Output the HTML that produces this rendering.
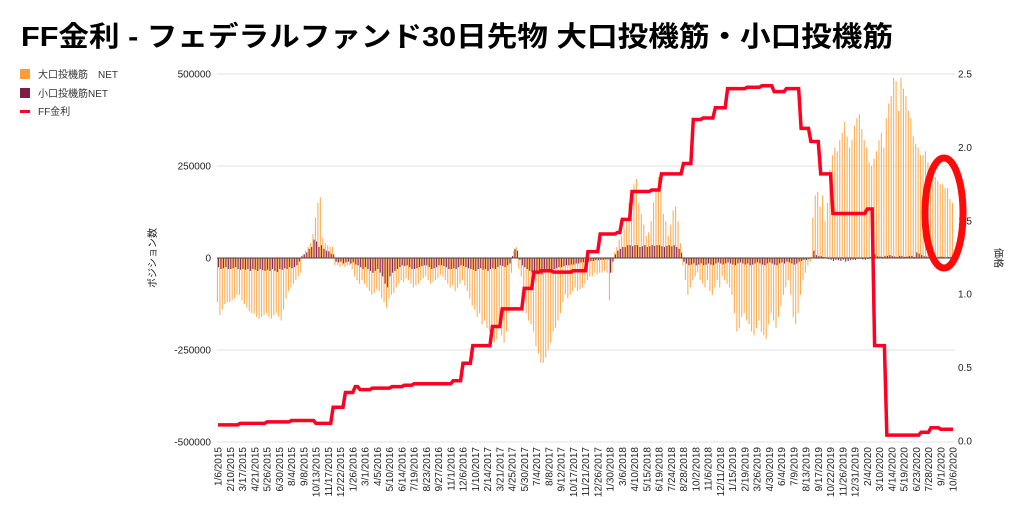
<!DOCTYPE html>
<html><head><meta charset="utf-8">
<style>
html,body{margin:0;padding:0;background:#fff;}
body{width:1024px;height:523px;overflow:hidden;font-family:"Liberation Sans","Noto Sans CJK JP",sans-serif;}
svg text{font-family:"Liberation Sans","Noto Sans CJK JP",sans-serif;}
</style></head>
<body>
<svg id="chart" width="1024" height="523" viewBox="0 0 1024 523" xmlns="http://www.w3.org/2000/svg">
<text x="21" y="46" font-size="28" font-weight="bold" fill="#000" textLength="872" lengthAdjust="spacingAndGlyphs">FF金利 - フェデラルファンド30日先物 大口投機筋・小口投機筋</text>
<g>
 <g><rect x="20" y="69" width="10" height="10" fill="#ff9c33"/><text x="38" y="78" font-size="10" fill="#333">大口投機筋　NET</text></g>
 <g><rect x="20" y="88" width="10" height="10" fill="#7a1f45"/><text x="38" y="97" font-size="10" fill="#333">小口投機筋NET</text></g>
 <g><rect x="20" y="110" width="10" height="3" fill="#ff0022"/><text x="38" y="115" font-size="10" fill="#333">FF金利</text></g>
</g>
<g id="grid"></g>
<g id="bars"></g>
<line x1="217" x2="955" y1="258" y2="258" stroke="#444" stroke-width="1"/>
<polyline id="rateLine" fill="none" stroke="#ff0022" stroke-width="3.5" stroke-linejoin="miter"/>
<g id="axes"></g>
<text transform="translate(156,258) rotate(-90)" text-anchor="middle" font-size="10" fill="#222">ポジション数</text>
<text transform="translate(995,258) rotate(90)" text-anchor="middle" font-size="10" fill="#222">価格</text>
<ellipse cx="944" cy="213" rx="19" ry="55" fill="none" stroke="#ff0a0a" stroke-width="7"/>
</svg>
<script>
const largeNet = [
-120,-155,-140,-125,-120,-120,-115,-110,-100,-100,
-115,-125,-135,-145,-150,-150,-160,-165,-160,-155,
-150,-160,-165,-155,-150,-160,-170,-140,-110,-90,
-80,-70,-60,-50,-40,10,
20,30,40,65,110,150,165,55,40,35,30,30,
-20,-20,-25,-20,-25,-20,-20,-30,-50,-60,-70,-60,
-70,-80,-90,-100,-95,-85,-90,-110,-120,-135,
-110,-100,-95,-80,-70,-60,-65,-55,-60,-70,
-80,-75,-70,-60,-55,-50,-60,-70,-65,-60,
-55,-45,-50,-60,-70,-80,-75,-90,-80,-70,
-60,-75,-90,-110,-130,-140,-160,-150,-180,-170,
-190,-200,-210,-230,-220,-190,-210,-230,-200,-150,
-40,20,30,-30,-50,-100,-150,-170,-180,-200,
-240,-260,-285,-285,-270,-250,-230,-200,-190,-170,
-150,-120,-100,-110,-100,-90,-80,-90,-85,-80,
-70,-60,-50,-50,-40,-45,-40,-40,-35,-40,
-115,-40,15,30,50,60,80,100,150,180,
200,215,150,120,90,60,70,100,150,180,
220,180,120,100,60,90,130,140,100,40,
-20,-60,-100,-80,-60,-50,-40,-60,-70,-80,
-60,-90,-100,-80,-60,-80,-50,-60,-70,-80,
-100,-150,-200,-190,-160,-150,-170,-180,-200,-210,
-190,-170,-200,-210,-220,-180,-150,-170,-190,-160,
-130,-100,-80,-60,-100,-160,-180,-150,-100,-60,
-40,-20,-10,110,170,180,140,170,100,150,
240,280,300,290,320,340,370,330,300,320,
360,380,390,350,320,300,260,250,270,290,
320,340,300,380,420,440,490,480,400,490,
460,440,400,380,330,310,300,280,280,290,
260,250,230,220,210,200,200,190,190,160,
150];
const smallNet = [
-25,-30,-28,-25,-30,-30,-28,-25,-30,-32,
-30,-32,-30,-35,-30,-32,-35,-30,-33,-35,
-32,-35,-30,-35,-38,-30,-32,-28,-30,-25,
-28,-25,-20,-10,5,10,
15,25,30,50,45,30,35,25,20,18,12,10,
-10,-12,-10,-15,-12,-10,-15,-12,-18,-20,-25,-30,
-25,-30,-35,-40,-35,-30,-40,-50,-70,-80,
-50,-40,-35,-30,-25,-20,-22,-20,-25,-30,
-30,-28,-25,-22,-20,-20,-25,-30,-28,-25,
-20,-20,-22,-25,-30,-30,-28,-30,-25,-20,
-22,-25,-28,-30,-32,-35,-30,-28,-32,-30,
-35,-30,-28,-30,-25,-20,-22,-25,-20,-15,
5,25,20,-5,-20,-25,-30,-35,-40,-38,
-40,-42,-45,-40,-38,-35,-32,-30,-28,-25,
-25,-22,-20,-20,-18,-18,-15,-15,-12,-12,
-10,-10,-8,-8,-6,-6,-5,-5,-4,-4,
-40,-10,10,20,25,30,30,35,35,32,
35,35,30,32,35,30,32,35,33,35,
35,32,30,33,35,32,35,30,25,15,
-10,-15,-20,-18,-15,-20,-18,-15,-20,-18,
-15,-18,-20,-15,-12,-15,-18,-15,-12,-15,
-18,-20,-15,-12,-15,-18,-15,-20,-18,-15,
-12,-15,-18,-20,-15,-12,-15,-18,-20,-15,
-12,-15,-10,-12,-15,-18,-15,-10,-8,-5,
-5,-3,2,20,8,5,5,3,2,-3,
-5,-8,-5,-6,-8,-5,-10,-8,-6,-5,
-5,-3,-2,-4,-5,-3,3,8,10,5,
4,3,5,6,8,5,4,3,6,5,
3,4,5,6,3,15,12,8,5,4,
3,4,3,2,3,4,3,2,3,3,
2];
const ffRate = [
0.11,0.11,0.11,0.11,0.11,0.11,0.11,0.11,0.11,0.12,
0.12,0.12,0.12,0.12,0.12,0.12,0.12,0.12,0.12,0.12,
0.13,0.13,0.13,0.13,0.13,0.13,0.13,0.13,0.13,0.13,
0.14,0.14,0.14,0.14,0.14,0.14,0.14,0.14,0.14,0.14,
0.12,0.12,0.12,0.12,0.12,0.12,0.12,0.23,0.23,0.23,
0.23,0.23,0.33,0.33,0.33,0.33,0.37,0.37,0.35,0.35,
0.35,0.35,0.35,0.36,0.36,0.36,0.36,0.36,0.36,0.36,
0.36,0.37,0.37,0.37,0.37,0.37,0.38,0.38,0.38,0.38,
0.39,0.39,0.39,0.39,0.39,0.39,0.39,0.39,0.39,0.39,
0.39,0.39,0.39,0.39,0.39,0.39,0.41,0.41,0.41,0.41,
0.53,0.53,0.53,0.53,0.65,0.65,0.65,0.65,0.65,0.65,
0.65,0.65,0.78,0.78,0.78,0.78,0.90,0.90,0.90,0.90,
0.90,0.90,0.90,0.90,0.90,1.04,1.04,1.04,1.04,1.15,
1.15,1.15,1.16,1.16,1.16,1.16,1.16,1.15,1.15,1.15,
1.15,1.15,1.15,1.15,1.15,1.16,1.16,1.16,1.16,1.16,
1.16,1.29,1.29,1.29,1.29,1.29,1.41,1.41,1.41,1.41,
1.41,1.41,1.41,1.42,1.42,1.51,1.51,1.51,1.51,1.70,
1.70,1.70,1.70,1.70,1.70,1.70,1.70,1.71,1.71,1.71,
1.71,1.82,1.82,1.82,1.82,1.82,1.82,1.82,1.82,1.82,
1.89,1.89,1.89,1.89,2.19,2.19,2.19,2.19,2.20,2.20,
2.20,2.20,2.20,2.27,2.27,2.27,2.27,2.27,2.40,2.40,
2.40,2.40,2.40,2.40,2.40,2.40,2.41,2.41,2.41,2.41,
2.41,2.41,2.42,2.42,2.42,2.42,2.42,2.38,2.38,2.38,
2.38,2.38,2.40,2.40,2.40,2.40,2.40,2.40,2.13,2.13,
2.13,2.13,2.04,2.04,2.04,2.04,1.82,1.82,1.82,1.82,
1.82,1.55,1.55,1.55,1.55,1.55,1.55,1.55,1.55,1.55,
1.55,1.55,1.55,1.55,1.55,1.58,1.58,1.58,0.65,0.65,
0.65,0.65,0.65,0.04,0.04,0.04,0.04,0.04,0.04,0.04,
0.04,0.04,0.04,0.04,0.04,0.04,0.04,0.06,0.06,0.06,
0.06,0.09,0.09,0.09,0.09,0.08,0.08,0.08,0.08,0.08,
0.08];
const leftTicks = [500000, 250000, 0, -250000, -500000];
const rightTicks = ["2.5","2.0","1.5","1.0","0.5","0.0"];
const startDate = "2015-01-06";

const NS = "http://www.w3.org/2000/svg";
const X0 = 218, X1 = 953;
const n = largeNet.length;
function xPos(i){ return X0 + i * (X1 - X0) / (n - 1); }
function yLeft(k){ return 258 - k * 1000 / 250000 * 92; }
function yRight(r){ return 441 - r * 146.8; }
function mk(tag, attrs, parent){ const e = document.createElementNS(NS, tag); for (const a in attrs) e.setAttribute(a, attrs[a]); parent.appendChild(e); return e; }

const grid = document.getElementById('grid');
const axes = document.getElementById('axes');
leftTicks.forEach(v => {
  const y = yLeft(v / 1000);
  const gl = mk('line', {x1: 217, x2: 955, y1: y, y2: y, stroke: '#e2e2e2', 'stroke-width': 1}, grid);
  
  
  const t = mk('text', {x: 211, y: y + 3.5, 'text-anchor': 'end', 'font-size': 10, fill: '#222'}, axes);
  t.textContent = String(v);
  
  
});
rightTicks.forEach(s => {
  const y = yRight(parseFloat(s));
  const t = mk('text', {x: 958, y: y + 3.5, 'font-size': 10, fill: '#222'}, axes);
  t.textContent = s;
  
  
});

const bars = document.getElementById('bars');
for (let i = 0; i < n; i++) {
  const x = xPos(i);
  const yl = yLeft(largeNet[i]);
  const b1 = mk('rect', {x: x - 1.1, y: Math.min(yl, 258), width: 1.1, height: Math.abs(yl - 258), fill: '#ffae55'}, bars);
  
  
  const ys = yLeft(smallNet[i]);
  const b2 = mk('rect', {x: x, y: Math.min(ys, 258), width: 1.1, height: Math.abs(ys - 258), fill: '#8a2a4a'}, bars);
  
  
}

document.getElementById('rateLine').setAttribute('points', ffRate.map((r, i) => xPos(i).toFixed(2) + ',' + yRight(r).toFixed(2)).join(' '));

const d0 = new Date(startDate + "T00:00:00Z");
for (let i = 0; i < n; i += 5) {
  const d = new Date(d0.getTime() + i * 7 * 86400000);
  const s = (d.getUTCMonth() + 1) + '/' + d.getUTCDate() + '/' + d.getUTCFullYear();
  const x = xPos(i) + 3.5;
  const t = mk('text', {transform: 'translate(' + x.toFixed(2) + ',447) rotate(-90)', 'text-anchor': 'end', 'font-size': 10, fill: '#222'}, axes);
  t.textContent = s;
  
  
}
</script>
</body></html>
